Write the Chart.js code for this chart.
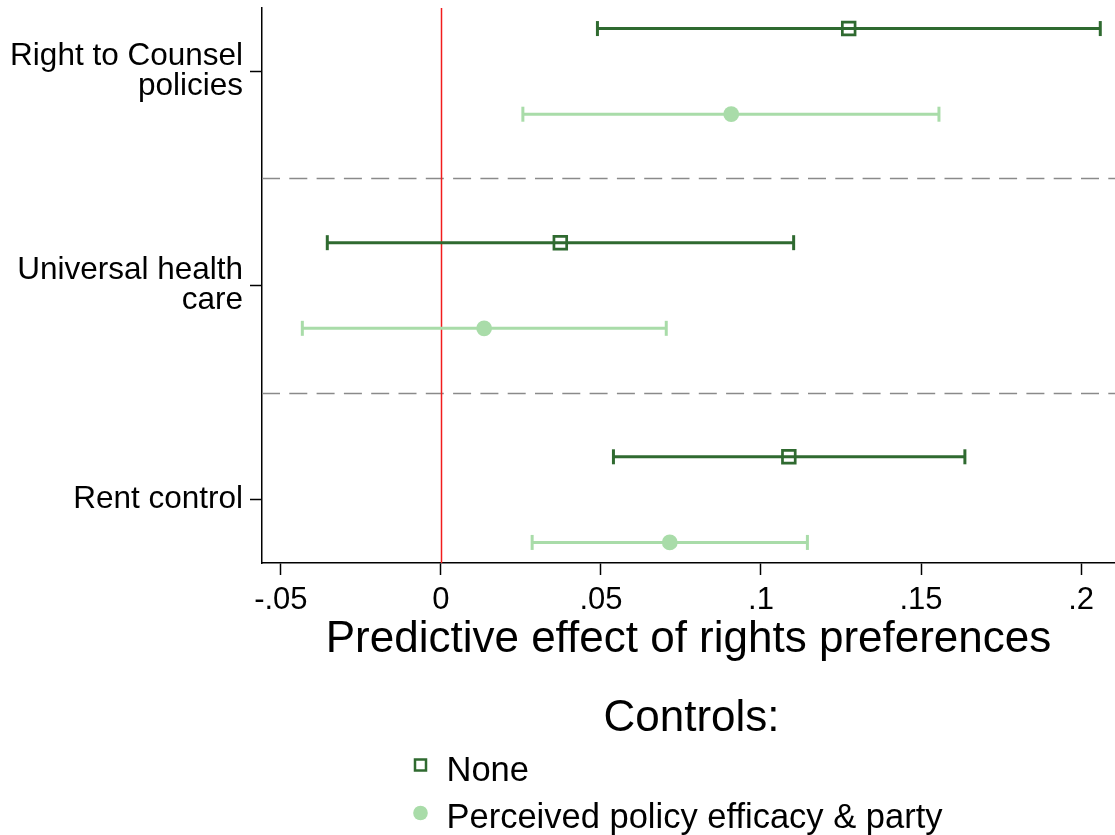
<!DOCTYPE html>
<html>
<head>
<meta charset="utf-8">
<script src="https://cdn.jsdelivr.net/npm/chart.js@4.4.1/dist/chart.umd.min.js"></script>
<style>
  html, body { margin: 0; padding: 0; background: #ffffff; }
  #wrap { position: relative; width: 1115px; height: 835px; }
</style>
</head>
<body>
<div id="wrap"><canvas id="coefplot" width="1115" height="835"></canvas></div>
<script>
// Policy outcomes (one row each, top to bottom)
const categories = [
  ["Right to Counsel", "policies"],
  ["Universal health", "care"],
  ["Rent control"]
];

// Model without controls: point estimate and 95% CI
const noneEst = [0.1274, 0.0373, 0.1087];
const noneLo  = [0.0489, -0.0355, 0.0539];
const noneHi  = [0.2060, 0.1102, 0.1637];

// Model controlling for perceived policy efficacy & party
const ctrlEst = [0.0907, 0.0135, 0.0715];
const ctrlLo  = [0.0256, -0.0433, 0.0285];
const ctrlHi  = [0.1556, 0.0704, 0.1145];

const seriesNames = ["None", "Perceived policy efficacy & party"];

// Horizontal axis ticks
const xTickValues = [-0.05, 0, 0.05, 0.1, 0.15, 0.2];
const xTickLabels = ["-.05", "0", ".05", ".1", ".15", ".2"];

const FONT = "'Liberation Sans', Arial, Helvetica, sans-serif";
const DARK = "#2f6a30";
const LIGHT = "#a9dca9";
const ROW_SHIFT = 0.2;   // vertical offset of each model within a row

const series = [
  { name: seriesNames[0], est: noneEst, lo: noneLo, hi: noneHi, color: DARK,
    shift: -ROW_SHIFT, pointStyle: "rect", radius: 9, fill: "rgba(0,0,0,0)", bw: 2.7 },
  { name: seriesNames[1], est: ctrlEst, lo: ctrlLo, hi: ctrlHi, color: LIGHT,
    shift: ROW_SHIFT, pointStyle: "circle", radius: 7.9, fill: LIGHT, bw: 0 }
];

const datasets = [];
series.forEach(s => {
  // confidence-interval whiskers with vertical caps
  s.est.forEach((_, i) => {
    datasets.push({
      type: "line",
      data: [{ x: s.lo[i], y: i + s.shift }, { x: s.hi[i], y: i + s.shift }],
      borderColor: s.color,
      borderWidth: 3,
      showLine: true,
      pointStyle: "line",
      rotation: 90,
      pointRadius: 7.5,
      pointBorderWidth: 3,
      pointBorderColor: s.color,
      pointHoverRadius: 7.5,
      order: 2
    });
  });
  // point estimates
  datasets.push({
    type: "scatter",
    label: s.name,
    data: s.est.map((v, i) => ({ x: v, y: i + s.shift })),
    pointStyle: s.pointStyle,
    pointRadius: s.radius,
    pointHoverRadius: s.radius,
    backgroundColor: s.fill,
    borderColor: s.color,
    pointBorderWidth: s.bw,
    order: 1
  });
});

// zero reference line and dashed separators between rows
const guides = {
  id: "guides",
  beforeDatasetsDraw(chart) {
    const { ctx, chartArea: a, scales: { x, y } } = chart;
    ctx.save();
    ctx.strokeStyle = "#8a8a8a";
    ctx.lineWidth = 1.3;
    ctx.setLineDash([18, 9.3]);
    for (let i = 0; i < categories.length - 1; i++) {
      const py = Math.round(y.getPixelForValue(i + 0.5)) + 0.5;
      ctx.beginPath();
      ctx.moveTo(a.left, py);
      ctx.lineTo(a.right, py);
      ctx.stroke();
    }
    ctx.setLineDash([]);
    ctx.strokeStyle = "#f21c1c";
    ctx.lineWidth = 1.5;
    const px = Math.round(x.getPixelForValue(0)) + 0.5;
    ctx.beginPath();
    ctx.moveTo(px, a.top);
    ctx.lineTo(px, a.bottom);
    ctx.stroke();
    ctx.restore();
  }
};

// legend: title plus one key per model, stacked
const keyLegend = {
  id: "keyLegend",
  afterDraw(chart) {
    const { ctx, chartArea: a } = chart;
    const cx = (a.left + a.right) / 2;
    ctx.save();
    ctx.fillStyle = "#000";
    ctx.textBaseline = "middle";
    ctx.textAlign = "center";
    ctx.font = "44px " + FONT;
    ctx.fillText("Controls:", cx + 3, 719);
    ctx.textAlign = "left";
    ctx.font = "34.5px " + FONT;
    const rows = [771, 818];
    series.forEach((s, k) => {
      const mx = cx - 268;
      const my = rows[k] - 6;
      if (s.pointStyle === "rect") {
        ctx.strokeStyle = s.color;
        ctx.lineWidth = 2.5;
        ctx.strokeRect(mx - 5.5, my - 5.5, 11, 11);
      } else {
        ctx.fillStyle = s.color;
        ctx.beginPath();
        ctx.arc(mx, my + 1, 7.3, 0, Math.PI * 2);
        ctx.fill();
      }
      ctx.fillStyle = "#000";
      ctx.fillText(s.name, cx - 242, rows[k]);
    });
    ctx.restore();
  }
};

new Chart(document.getElementById("coefplot"), {
  type: "scatter",
  data: { datasets },
  options: {
    responsive: false,
    animation: false,
    devicePixelRatio: 1,
    events: [],
    layout: { autoPadding: false, padding: { top: 8, bottom: 170, left: 0, right: 0 } },
    plugins: { legend: { display: false }, tooltip: { enabled: false } },
    scales: {
      x: {
        type: "linear",
        position: "bottom",
        min: -0.0559,
        max: 0.2106,
        afterBuildTicks(scale) { scale.ticks = xTickValues.map(v => ({ value: v })); },
        afterFit(scale) {
          scale.height = 102;
          scale.paddingLeft = 0;
          scale.paddingRight = 0;
        },
        ticks: {
          color: "#000",
          font: { family: FONT, size: 31 },
          padding: 7,
          maxRotation: 0,
          callback(value) {
            const k = xTickValues.findIndex(t => Math.abs(t - value) < 1e-9);
            return k >= 0 ? xTickLabels[k] : "";
          }
        },
        grid: { drawOnChartArea: false, drawTicks: true, tickLength: 12, tickColor: "#000", tickWidth: 1.5 },
        border: { color: "#000", width: 1.5 },
        title: {
          display: true,
          text: "Predictive effect of rights preferences",
          color: "#000",
          font: { family: FONT, size: 44, lineHeight: 1.0 },
          padding: { top: 0, bottom: 3 }
        }
      },
      y: {
        type: "linear",
        reverse: true,
        min: -0.296,
        max: 2.296,
        afterBuildTicks(scale) { scale.ticks = categories.map((_, i) => ({ value: i })); },
        afterFit(scale) {
          scale.width = 262;
          scale.paddingTop = 0;
          scale.paddingBottom = 0;
        },
        ticks: {
          color: "#000",
          font: { family: FONT, size: 31.5, lineHeight: 0.96 },
          padding: 7,
          callback(value) { return categories[value] || ""; }
        },
        grid: { drawOnChartArea: false, drawTicks: true, tickLength: 12, tickColor: "#000", tickWidth: 1.5 },
        border: { color: "#000", width: 1.5 }
      }
    }
  },
  plugins: [guides, keyLegend]
});
</script>
</body>
</html>
